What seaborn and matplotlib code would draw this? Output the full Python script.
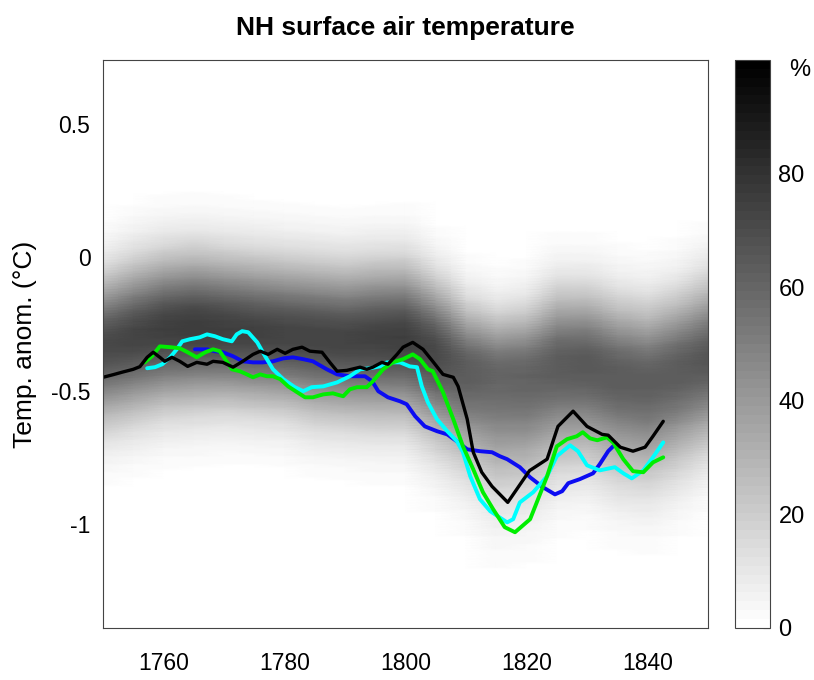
import numpy as np
import matplotlib
matplotlib.use("Agg")
import matplotlib.pyplot as plt
import seaborn as sns

# shaded ensemble band, read at 5-year steps
band_years = [1750, 1755, 1760, 1765, 1770, 1775, 1780, 1785, 1790, 1795, 1800,
              1805, 1810, 1815, 1820, 1825, 1830, 1835, 1840, 1845, 1850]
band_center = [-0.33, -0.30, -0.27, -0.26, -0.27, -0.28, -0.29, -0.30, -0.31, -0.30, -0.30,
               -0.35, -0.42, -0.44, -0.44, -0.40, -0.40, -0.44, -0.46, -0.42, -0.38]
band_sd_up = [0.17, 0.18, 0.18, 0.18, 0.18, 0.18, 0.18, 0.18, 0.18, 0.18, 0.18,
              0.17, 0.16, 0.15, 0.16, 0.18, 0.18, 0.18, 0.18, 0.18, 0.19]
band_sd_lo = [0.19, 0.19, 0.19, 0.19, 0.18, 0.18, 0.18, 0.19, 0.19, 0.20, 0.20,
              0.22, 0.23, 0.27, 0.26, 0.24, 0.23, 0.24, 0.24, 0.23, 0.21]
band_peak = [71, 73, 75, 76, 75, 74, 73, 73, 73, 74, 75,
             71, 64, 60, 61, 64, 65, 64, 63, 64, 66]

black_years = [1750.0, 1751.7, 1753.3, 1755.0, 1756.1, 1757.3, 1758.3, 1759.4, 1760.2, 1761.4,
               1762.7, 1764.0, 1765.5, 1767.2, 1768.2, 1769.8, 1771.5, 1773.1, 1774.8, 1776.0,
               1777.3, 1778.8, 1780.1, 1781.4, 1782.9, 1784.2, 1786.2, 1787.5, 1788.7, 1790.3,
               1792.5, 1793.6, 1794.6, 1796.1, 1797.1, 1798.6, 1799.6, 1801.2, 1802.9, 1804.5,
               1806.2, 1807.9, 1808.7, 1810.2, 1811.2, 1812.6, 1814.3, 1815.6, 1816.9, 1820.5,
               1823.4, 1825.2, 1827.7, 1830.0, 1832.5, 1833.5, 1835.5, 1837.6, 1839.6, 1840.9,
               1842.6]
black_temps = [-0.45, -0.44, -0.43, -0.42, -0.41, -0.375, -0.356, -0.375, -0.39, -0.375,
               -0.39, -0.409, -0.394, -0.401, -0.39, -0.394, -0.412, -0.39, -0.364, -0.352,
               -0.364, -0.345, -0.36, -0.345, -0.337, -0.352, -0.356, -0.394, -0.427, -0.424,
               -0.412, -0.42, -0.412, -0.394, -0.401, -0.364, -0.337, -0.319, -0.345, -0.39,
               -0.439, -0.45, -0.484, -0.607, -0.731, -0.806, -0.859, -0.889, -0.919, -0.80,
               -0.757, -0.634, -0.577, -0.634, -0.664, -0.667, -0.712, -0.727, -0.712, -0.671,
               -0.615]

blue_years = [1765.2, 1767.2, 1768.5, 1769.8, 1771.5, 1773.1, 1774.8, 1776.4, 1778.1, 1779.8,
              1781.4, 1783.1, 1784.7, 1787.0, 1788.7, 1790.8, 1793.3, 1794.5, 1795.5, 1797.1,
              1799.1, 1800.2, 1801.6, 1803.2, 1805.2, 1806.9, 1808.5, 1810.2, 1812.3, 1814.3,
              1815.6, 1816.8, 1818.9, 1820.6, 1822.7, 1824.7, 1825.9, 1826.9, 1828.8, 1831.0,
              1832.1, 1833.5, 1834.3]
blue_temps = [-0.345, -0.345, -0.352, -0.356, -0.371, -0.39, -0.394, -0.394, -0.39, -0.379,
              -0.375, -0.382, -0.39, -0.42, -0.439, -0.446, -0.446, -0.465, -0.502, -0.525,
              -0.54, -0.551, -0.596, -0.634, -0.652, -0.664, -0.69, -0.72, -0.727, -0.731,
              -0.746, -0.757, -0.787, -0.825, -0.862, -0.889, -0.877, -0.847, -0.832, -0.81,
              -0.776, -0.727, -0.709]

cyan_years = [1757.3, 1758.6, 1759.8, 1761.1, 1762.2, 1763.1, 1764.4, 1766.0, 1767.2, 1768.5,
              1769.8, 1771.3, 1772.1, 1773.0, 1774.0, 1775.5, 1776.8, 1778.1, 1779.8, 1781.7,
              1783.1, 1784.5, 1786.4, 1788.7, 1790.8, 1792.5, 1794.1, 1795.8, 1796.9, 1799.1,
              1800.7, 1801.9, 1802.7, 1803.7, 1805.2, 1806.9, 1808.5, 1809.5, 1810.7, 1812.3,
              1814.0, 1816.8, 1817.8, 1818.9, 1821.1, 1823.4, 1825.0, 1827.2, 1828.5, 1830.0,
              1832.1, 1834.6, 1836.0, 1837.4, 1839.3, 1840.9, 1842.6]
cyan_temps = [-0.416, -0.412, -0.401, -0.375, -0.345, -0.315, -0.307, -0.30, -0.289, -0.296,
              -0.307, -0.315, -0.289, -0.277, -0.281, -0.319, -0.371, -0.42, -0.457, -0.487,
              -0.502, -0.487, -0.484, -0.469, -0.446, -0.42, -0.416, -0.409, -0.394, -0.394,
              -0.409, -0.412, -0.484, -0.544, -0.607, -0.652, -0.69, -0.731, -0.821, -0.907,
              -0.952, -0.994, -0.982, -0.919, -0.881, -0.821, -0.746, -0.705, -0.727, -0.78,
              -0.799, -0.787, -0.81, -0.829, -0.799, -0.75, -0.694]

green_years = [1756.9, 1758.1, 1759.4, 1761.1, 1762.7, 1764.0, 1765.5, 1766.9, 1768.2, 1769.3,
               1770.2, 1771.3, 1772.6, 1773.8, 1774.8, 1776.0, 1777.1, 1778.1, 1779.3, 1780.6,
               1782.1, 1783.4, 1784.7, 1786.4, 1788.0, 1789.7, 1790.8, 1792.0, 1793.6, 1794.6,
               1796.3, 1797.9, 1799.6, 1801.2, 1802.4, 1803.7, 1804.5, 1806.2, 1807.9, 1809.5,
               1811.2, 1812.8, 1814.5, 1816.4, 1818.1, 1820.6, 1823.4, 1825.0, 1826.7, 1828.3,
               1829.3, 1830.5, 1831.7, 1833.3, 1834.3, 1836.0, 1837.6, 1839.3, 1840.9, 1842.6]
green_temps = [-0.394, -0.371, -0.334, -0.337, -0.341, -0.356, -0.375, -0.356, -0.345, -0.352,
               -0.382, -0.42, -0.427, -0.439, -0.45, -0.439, -0.446, -0.446, -0.457, -0.484,
               -0.506, -0.525, -0.525, -0.514, -0.51, -0.521, -0.495, -0.487, -0.487, -0.465,
               -0.42, -0.394, -0.382, -0.364, -0.382, -0.42, -0.427, -0.506, -0.607, -0.709,
               -0.795, -0.881, -0.945, -1.012, -1.031, -0.982, -0.821, -0.709, -0.682, -0.671,
               -0.656, -0.679, -0.686, -0.675, -0.694, -0.757, -0.802, -0.806, -0.769, -0.75]

sns.set_style("white")
plt.rcParams["font.family"] = ["Liberation Sans", "DejaVu Sans"]
plt.rcParams["text.color"] = "black"
plt.rcParams["axes.labelcolor"] = "black"
plt.rcParams["xtick.color"] = "black"
plt.rcParams["ytick.color"] = "black"

fig = plt.figure(figsize=(8.14, 6.80), dpi=100)
ax = fig.add_axes([0.1265, 0.0765, 0.7433, 0.8353])
cax = fig.add_axes([0.903, 0.0765, 0.043, 0.8353])

# density field of the shaded band
temp_grid = np.linspace(-1.4, 0.75, 216)
dz = temp_grid[:, None] - np.array(band_center)[None, :]
sd = np.where(dz > 0, np.array(band_sd_up)[None, :], np.array(band_sd_lo)[None, :])
field = np.array(band_peak)[None, :] * np.exp(-0.5 * (dz / sd) ** 2)

cmap = plt.get_cmap("gray_r", 64)
mesh = ax.pcolormesh(band_years, temp_grid, field, cmap=cmap, vmin=0, vmax=100,
                     shading="gouraud", rasterized=True)

lines = [(blue_years, blue_temps, "#0c0cf2", 2.8),
         (cyan_years, cyan_temps, "#00ffff", 2.8),
         (green_years, green_temps, "#00ee00", 2.8),
         (black_years, black_temps, "#000000", 2.4)]
for yrs, tmp, col, lw in lines:
    sns.lineplot(x=yrs, y=tmp, color=col, lw=lw, ax=ax, sort=False, estimator=None)

ax.set_xlim(1750, 1850)
ax.set_ylim(-1.39, 0.74)
ax.set_xticks([1760, 1780, 1800, 1820, 1840])
ax.set_yticks([-1, -0.5, 0, 0.5])
ax.set_yticklabels(["-1", "-0.5", "0", "0.5"])
ax.tick_params(length=0, labelsize=16.5)
ax.tick_params(axis="x", pad=17)
ax.tick_params(axis="y", pad=9)
for sp in ax.spines.values():
    sp.set_color("#444444")
    sp.set_linewidth(0.8)

ax.set_title("NH surface air temperature", fontsize=19, fontweight="bold", pad=18)
ax.set_ylabel("Temp. anom. (\u00b0C)", fontsize=19, labelpad=10)

cb = fig.colorbar(mesh, cax=cax)
cb.set_ticks([0, 20, 40, 60, 80])
cax.tick_params(direction="in", length=5, width=0.8, labelsize=17, pad=6, color="#444444")
cb.outline.set_edgecolor("#444444")
cb.outline.set_linewidth(0.8)
cax.text(1.86, 0.982, "%", transform=cax.transAxes, fontsize=17,
         ha="center", va="center")

fig.savefig("out.png", dpi=100)
